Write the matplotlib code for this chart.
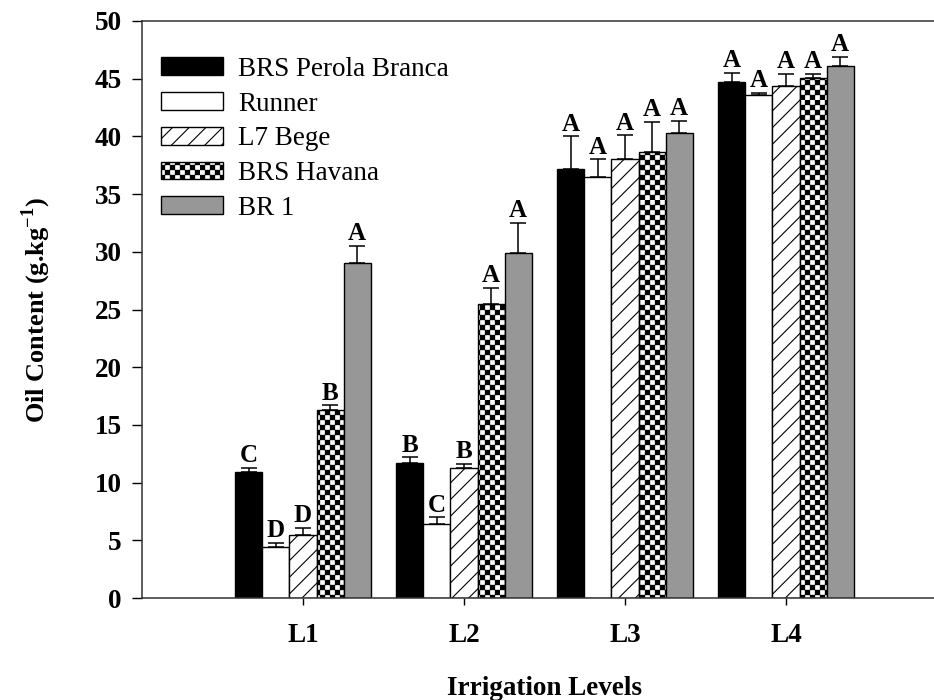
import numpy as np
import matplotlib
matplotlib.use("Agg")
import matplotlib.pyplot as plt
import matplotlib.hatch as mhatch
from matplotlib.path import Path

# ---------------- data ----------------
levels = ["L1", "L2", "L3", "L4"]
cultivars = ["BRS Perola Branca", "Runner", "L7 Bege", "BRS Havana", "BR 1"]
perola = [10.9, 11.7, 37.2, 44.7]
runner = [4.45, 6.4, 36.5, 43.6]
l7bege = [5.5, 11.25, 38.0, 44.4]
havana = [16.3, 25.5, 38.65, 45.05]
br1 = [29.0, 29.9, 40.3, 46.1]
err_perola = [0.4, 0.5, 2.8, 0.8]
err_runner = [0.3, 0.6, 1.5, 0.15]
err_l7bege = [0.6, 0.35, 2.1, 1.0]
err_havana = [0.4, 1.4, 2.6, 0.4]
err_br1 = [1.5, 2.6, 1.05, 0.8]
let_perola = ["C", "B", "A", "A"]
let_runner = ["D", "C", "A", "A"]
let_l7bege = ["D", "B", "A", "A"]
let_havana = ["B", "A", "A", "A"]
let_br1 = ["A", "A", "A", "A"]
yticks = [0, 5, 10, 15, 20, 25, 30, 35, 40, 45, 50]


# ---------------- checkerboard hatch ----------------
class CheckerHatch(mhatch.HatchPatternBase):
    N = 20

    def __init__(self, hatch, density):
        self.on = hatch.count('*') > 0
        n = self.N
        self.num_vertices = (n * n // 2) * 5 if self.on else 0

    def set_vertices_and_codes(self, vertices, codes):
        n = self.N
        s = 1.0 / n
        m = 0.004
        k = 0
        for i in range(n):
            for j in range(n):
                if (i + j) % 2 == 0:
                    x0, y0 = i * s + m, j * s + m
                    x1, y1 = (i + 1) * s - m, (j + 1) * s - m
                    vertices[k:k + 5] = [(x0, y0), (x1, y0), (x1, y1), (x0, y1), (x0, y0)]
                    codes[k] = Path.MOVETO
                    codes[k + 1:k + 4] = Path.LINETO
                    codes[k + 4] = Path.CLOSEPOLY
                    k += 5


mhatch._hatch_types = [t for t in mhatch._hatch_types if t is not mhatch.Stars] + [CheckerHatch]

plt.rcParams['font.family'] = ['Liberation Serif', 'DejaVu Serif']
plt.rcParams['mathtext.fontset'] = 'custom'
plt.rcParams['mathtext.rm'] = 'Liberation Serif'
plt.rcParams['mathtext.bf'] = 'Liberation Serif:bold'
plt.rcParams['hatch.linewidth'] = 0.8
plt.rcParams['hatch.color'] = 'black'

fig = plt.figure(figsize=(9.34, 7.0), dpi=100)
W, H = 934, 700
left_px, bottom_px, top_px = 142, 598, 21
ax = fig.add_axes([left_px / W, (H - bottom_px) / H, 805 / W, (bottom_px - top_px) / H])

series = [perola, runner, l7bege, havana, br1]
errs = [err_perola, err_runner, err_l7bege, err_havana, err_br1]
lets = [let_perola, let_runner, let_l7bege, let_havana, let_br1]
faces = ['black', 'white', 'white', 'white', '#979797']
hatches = [None, None, '//', '*', None]

x = np.arange(1, len(levels) + 1)
bw = 0.168
for i, (vals, e, lt, fc, ht) in enumerate(zip(series, errs, lets, faces, hatches)):
    xi = x + (i - 2) * bw
    ax.bar(xi, vals, width=bw, color=fc, edgecolor='black', linewidth=1.0,
           hatch=ht, label=cultivars[i],
           yerr=[np.zeros(len(vals)), e], capsize=6,
           error_kw=dict(elinewidth=1.1, capthick=1.1, ecolor='black'))
    for xx, v, ee, l in zip(xi, vals, e, lt):
        ax.annotate(l, (xx, v + ee), xytext=(0, 0.5), textcoords='offset points',
                    ha='center', va='bottom', fontsize=18, fontweight='bold')

ax.set_xlim(0, 5)
ax.set_ylim(0, 50)
ax.set_xticks(x)
ax.set_xticklabels(levels, fontsize=19.5, fontweight='bold')
ax.set_yticks(yticks)
ax.set_yticklabels([str(t) for t in yticks], fontsize=19.5, fontweight='bold')
ax.tick_params(axis='y', direction='out', length=7.2, width=1.0, pad=7.5)
ax.tick_params(axis='x', direction='out', length=5, width=1.0, pad=13)
for sp in ax.spines.values():
    sp.set_linewidth(1.1)
    sp.set_color('#333333')

ax.set_xlabel('Irrigation Levels', fontsize=19.5, fontweight='bold', labelpad=20)
ax.set_ylabel(r'Oil Content (g.kg$^{\mathbf{-1}}$)', fontsize=19, fontweight='bold', labelpad=30)

ax.legend(loc='upper left', bbox_to_anchor=(0.0236, 0.938), frameon=False,
          fontsize=19.5, handlelength=2.3, handleheight=0.63, handletextpad=0.55,
          labelspacing=0.36, borderaxespad=0, borderpad=0)

fig.savefig('out.png', dpi=100)
